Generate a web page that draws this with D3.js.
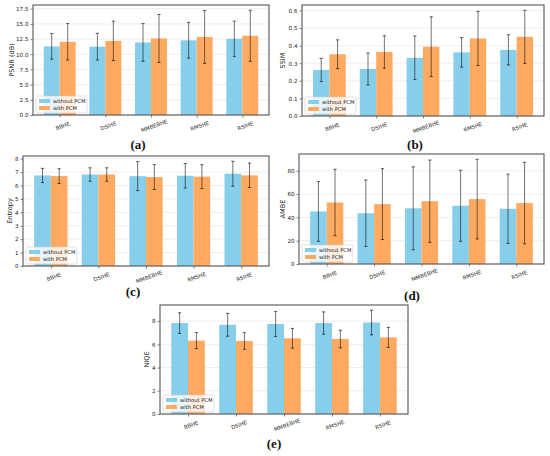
<!DOCTYPE html>
<html><head><meta charset="utf-8">
<script src="https://cdn.jsdelivr.net/npm/d3@7"></script>
<style>html,body{margin:0;padding:0;background:#fff;}svg{display:block;}</style>
</head><body>
<svg id="chart" width="550" height="456"></svg>
<script>
// ---- data ----
const categories = ["BBHE", "DSIHE", "MMBEBHE", "RMSHE", "RSIHE"];
const seriesNames = ["without PCM", "with PCM"];

const psnrWithout    = [11.3, 11.25, 11.95, 12.3, 12.55];
const psnrWithoutErr = [2.1, 2.2, 3.1, 2.95, 2.9];
const psnrWith       = [12.05, 12.2, 12.6, 12.85, 13.05];
const psnrWithErr    = [3.0, 3.25, 3.95, 4.35, 4.2];

const ssimWithout    = [0.262, 0.267, 0.331, 0.362, 0.376];
const ssimWithoutErr = [0.066, 0.091, 0.124, 0.084, 0.086];
const ssimWith       = [0.351, 0.364, 0.394, 0.441, 0.450];
const ssimWithErr    = [0.082, 0.092, 0.170, 0.154, 0.151];

const entWithout     = [6.75, 6.82, 6.70, 6.73, 6.88];
const entWithoutErr  = [0.53, 0.50, 1.08, 0.91, 0.93];
const entWith        = [6.70, 6.82, 6.63, 6.66, 6.76];
const entWithErr     = [0.55, 0.50, 0.93, 0.89, 0.91];

const ambeWithout    = [45.1, 43.6, 47.8, 50.0, 47.4];
const ambeWithoutErr = [25.6, 28.5, 35.6, 30.5, 29.7];
const ambeWith       = [52.8, 51.4, 53.9, 55.7, 52.3];
const ambeWithErr    = [28.5, 30.4, 35.3, 34.2, 35.0];

const niqeWithout    = [7.83, 7.68, 7.75, 7.83, 7.88];
const niqeWithoutErr = [0.89, 0.98, 1.07, 0.96, 1.06];
const niqeWith       = [6.32, 6.29, 6.52, 6.46, 6.60];
const niqeWithErr    = [0.69, 0.71, 0.85, 0.76, 0.86];

const psnrTicks = [0, 2.5, 5, 7.5, 10, 12.5, 15, 17.5];
const ssimTicks = [0, 0.1, 0.2, 0.3, 0.4, 0.5, 0.6];
const entTicks  = [0, 1, 2, 3, 4, 5, 6, 7, 8];
const ambeTicks = [0, 20, 40, 60, 80];
const niqeTicks = [0, 2, 4, 6, 8];

const panelLabels = ["(a)", "(b)", "(c)", "(d)", "(e)"];
const yLabels = ["PSNR (dB)", "SSIM", "Entropy", "AMBE", "NIQE"];

// ---- layout ----
const colors = ["#87CEEB", "#FFAA60"];
const panels = [
  {vals:[psnrWithout, psnrWith], errs:[psnrWithoutErr, psnrWithErr], ticks:psnrTicks, fmt:".1f",
   l:33, r:269, t:5, b:115, ylx:10, lab:[138,149]},
  {vals:[ssimWithout, ssimWith], errs:[ssimWithoutErr, ssimWithErr], ticks:ssimTicks, fmt:".1f",
   l:302, r:544, t:5, b:116, ylx:281, lab:[415,149]},
  {vals:[entWithout, entWith], errs:[entWithoutErr, entWithErr], ticks:entTicks, fmt:"d",
   l:23, r:269, t:156, b:266, ylx:8, lab:[133,296]},
  {vals:[ambeWithout, ambeWith], errs:[ambeWithoutErr, ambeWithErr], ticks:ambeTicks, fmt:"d",
   l:299, r:544, t:154, b:264, ylx:281, lab:[412,300]},
  {vals:[niqeWithout, niqeWith], errs:[niqeWithoutErr, niqeWithErr], ticks:niqeTicks, fmt:"d",
   l:160, r:408, t:305, b:414, ylx:145, lab:[274,448]}
];

const svg = d3.select("#chart");
const barW = 0.35;

panels.forEach((p, pi) => {
  const g = svg.append("g");
  const x = d3.scaleLinear().domain([-0.585, categories.length - 1 + 0.585]).range([p.l, p.r]);
  let top = 0;
  p.vals.forEach((v, s) => v.forEach((d, i) => { top = Math.max(top, d + p.errs[s][i]); }));
  const y = d3.scaleLinear().domain([0, top * 1.05]).range([p.b, p.t]);

  // grid
  g.selectAll("line.grid").data(p.ticks).join("line")
    .attr("x1", p.l).attr("x2", p.r)
    .attr("y1", d => y(d)).attr("y2", d => y(d))
    .attr("stroke", "#e6e6e6").attr("stroke-width", 0.7);

  // bars
  p.vals.forEach((v, s) => {
    g.selectAll("rect.s" + s).data(v).join("rect")
      .attr("x", (d, i) => x(i - barW + s * barW))
      .attr("width", x(barW) - x(0))
      .attr("y", d => y(d))
      .attr("height", d => y(0) - y(d))
      .attr("fill", colors[s]);
  });
  // error bars
  p.vals.forEach((v, s) => {
    v.forEach((d, i) => {
      const cx = x(i - barW / 2 + s * barW);
      const e = p.errs[s][i];
      g.append("line").attr("x1", cx).attr("x2", cx)
        .attr("y1", y(d - e)).attr("y2", y(d + e))
        .attr("stroke", "#000").attr("stroke-opacity", 0.55).attr("stroke-width", 1);
      [d - e, d + e].forEach(vv => {
        g.append("line").attr("x1", cx - 1.6).attr("x2", cx + 1.6)
          .attr("y1", y(vv)).attr("y2", y(vv))
          .attr("stroke", "#000").attr("stroke-opacity", 0.7).attr("stroke-width", 0.9);
      });
    });
  });

  // y axis
  const ya = d3.axisLeft(y).tickValues(p.ticks).tickFormat(d3.format(p.fmt)).tickSize(2.5).tickPadding(2);
  const yg = g.append("g").attr("transform", `translate(${p.l},0)`).call(ya);
  yg.select(".domain").remove();
  yg.selectAll("text").attr("font-family", "DejaVu Sans").attr("font-size", 5.6).attr("fill", "#222");
  yg.selectAll("line").attr("stroke", "#333").attr("stroke-width", 0.6);

  // x axis
  const xa = d3.axisBottom(x).tickValues(d3.range(categories.length)).tickFormat(i => categories[i]).tickSize(2.5).tickPadding(3);
  const xg = g.append("g").attr("transform", `translate(0,${p.b})`).call(xa);
  xg.select(".domain").remove();
  xg.selectAll("line").attr("stroke", "#333").attr("stroke-width", 0.6);
  xg.selectAll("text")
    .attr("font-family", "DejaVu Sans").attr("font-size", 5.4).attr("fill", "#222")
    .attr("text-anchor", "middle")
    .attr("transform", "translate(0,4) rotate(-20)");

  // frame
  g.append("rect").attr("x", p.l).attr("y", p.t).attr("width", p.r - p.l).attr("height", p.b - p.t)
    .attr("fill", "none").attr("stroke", "#555").attr("stroke-width", 1.1);

  // y label
  g.append("text")
    .attr("transform", `translate(${p.ylx + 2},${(p.t + p.b) / 2}) rotate(-90)`)
    .attr("text-anchor", "middle").attr("dy", "0.35em")
    .attr("font-family", "DejaVu Sans").attr("font-size", 6.6).attr("fill", "#222")
    .text(yLabels[pi]);

  // legend
  const lx = p.l + 3, ly = p.b - 19;
  const lg = g.append("g");
  lg.append("rect").attr("x", lx).attr("y", ly).attr("width", 51).attr("height", 17).attr("rx", 1.5)
    .attr("fill", "#fff").attr("fill-opacity", 0.8).attr("stroke", "#ccc").attr("stroke-width", 0.6);
  seriesNames.forEach((nm, s) => {
    lg.append("rect").attr("x", lx + 3).attr("y", ly + 3 + s * 7).attr("width", 11).attr("height", 4)
      .attr("fill", colors[s]);
    lg.append("text").attr("x", lx + 17).attr("y", ly + 5 + s * 7).attr("dy", "0.35em")
      .attr("font-family", "DejaVu Sans").attr("font-size", 5.2).attr("fill", "#222").text(nm);
  });

  // panel label
  svg.append("text").attr("x", p.lab[0]).attr("y", p.lab[1]).attr("text-anchor", "middle")
    .attr("font-family", "Liberation Serif").attr("font-weight", "bold").attr("font-size", 13)
    .attr("fill", "#111").text(panelLabels[pi]);
});
</script>
</body></html>
